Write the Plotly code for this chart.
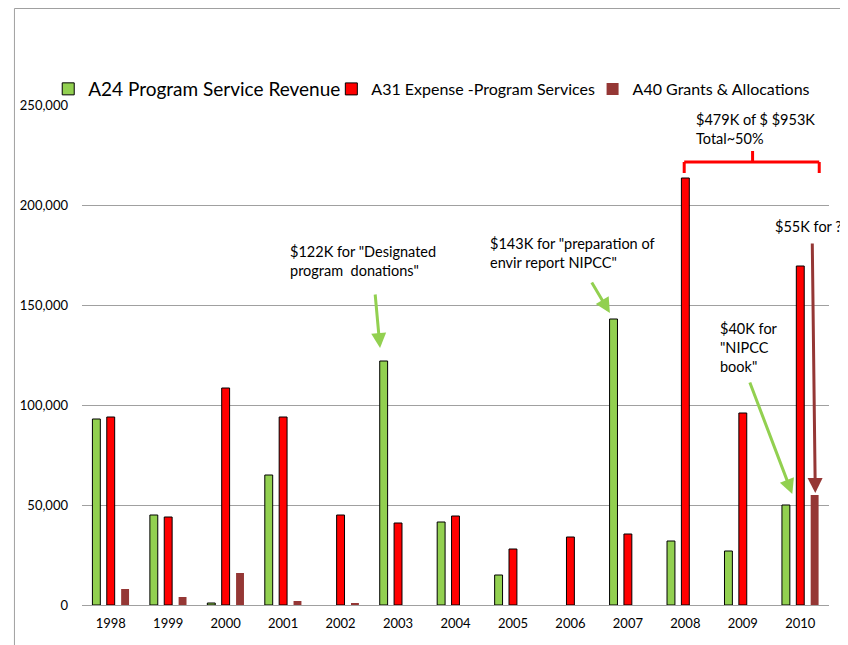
import plotly.graph_objects as go

years = [1998, 1999, 2000, 2001, 2002, 2003, 2004,
         2005, 2006, 2007, 2008, 2009, 2010]
# None = no revenue reported that year (no bar drawn)
revenue = [93000, 45000, 1000, 65000, None, 122000, 41500,
           15000, None, 143000, 32000, 27000, 50000]
expense = [94000, 44000, 108500, 94000, 45000, 41000, 44500,
           28000, 34000, 35500, 213500, 96000, 169500]
grants = [8000, 4000, 16000, 2000, 1000, 0, 0,
          0, 0, 0, 0, 0, 55000]

GREEN = "#92D050"
RED = "#FF0000"
BROWN = "#953735"
FONT = "Lato"

# page is drawn with an 8px body margin, so plot box lands at x 77..829, y 105..605
W, H = 848, 645
OFF = 8
PL, PR, PT, PB = 77, 829, 105, 605
ML, MR, MT, MB = PL - OFF, W + OFF - PR, PT - OFF, H + OFF - PB


def px_x(p):
    return (p - PL) / (PR - PL)


def px_y(p):
    return (PB - p) / (PB - PT)


fig = go.Figure()
fig.add_trace(go.Bar(x=years, y=revenue, name="A24 Program Service Revenue",
                     marker=dict(color=GREEN, line=dict(color="black", width=1)),
                     legend="legend"))
fig.add_trace(go.Bar(x=years, y=expense, name="A31 Expense -Program Services",
                     marker=dict(color=RED, line=dict(color="black", width=1)),
                     legend="legend2"))
fig.add_trace(go.Bar(x=years, y=grants, name="A40 Grants & Allocations",
                     marker=dict(color=BROWN, line=dict(width=0)),
                     legend="legend3"))

# text notes
notes = [
    (2003, 182000, -110, '$122K for "Designated<br>program  donations"'),
    (2007, 186000, -140, '$143K for "preparation of<br>envir report NIPCC"'),
    (2009, 248000, -49, "$479K of $ $953K<br>Total~50%"),
    (2010, 194500, -27, "$55K for ??"),
    (2010, 143500, -82, '$40K for<br>"NIPCC<br>book"'),
]
for x, y, xs, txt in notes:
    fig.add_annotation(x=x, y=y, xshift=xs, text=txt, showarrow=False,
                       xanchor="left", yanchor="top", align="left",
                       font=dict(family=FONT, size=14.5, color="black"))

# arrows (tip at bar top, tail offset in pixels)
arrows = [
    (2003, 128500, -18, -5, -55, GREEN),
    (2007, 146000, -18, -19, -32, GREEN),
    (2010, 55500, -8, -43, -113, GREEN),
    (2010, 56000, 15, -3, -251, BROWN),
]
for x, y, xs, ax, ay, col in arrows:
    fig.add_annotation(x=x, y=y, xshift=xs, ax=ax, ay=ay, text="",
                       showarrow=True, arrowhead=2, arrowsize=1,
                       arrowwidth=3, arrowcolor=col)

# bracket over 2008-2010
br = dict(color=RED, width=3)
bl, bc, brt = 2007.98, 2009.17, 2010.33
fig.add_shape(type="line", x0=bl, x1=brt, y0=221500, y1=221500, line=br)
fig.add_shape(type="line", x0=bl, x1=bl, y0=216000, y1=221500, line=br)
fig.add_shape(type="line", x0=brt, x1=brt, y0=216000, y1=221500, line=br)
fig.add_shape(type="line", x0=bc, x1=bc, y0=221500, y1=227000, line=br)

# outer frame
frame = dict(color="#A0A0A0", width=1)
fig.add_shape(type="line", xref="paper", yref="paper", x0=px_x(9), x1=px_x(W + 20),
              y0=px_y(8.5), y1=px_y(8.5), line=frame)
fig.add_shape(type="line", xref="paper", yref="paper", x0=px_x(9), x1=px_x(9),
              y0=px_y(8.5), y1=px_y(H + 20), line=frame)

leg = dict(orientation="h", y=px_y(89), yanchor="middle", xanchor="left",
           bgcolor="rgba(0,0,0,0)")
fig.update_layout(
    width=W, height=H,
    margin=dict(l=ML, r=MR, t=MT, b=MB),
    paper_bgcolor="white", plot_bgcolor="white",
    barmode="group", bargap=0.25, bargroupgap=0.45,
    font=dict(family=FONT, size=13, color="black"),
    legend=dict(leg, x=px_x(43), font=dict(family=FONT, size=19)),
    legend2=dict(leg, x=px_x(328), font=dict(family=FONT, size=16)),
    legend3=dict(leg, x=px_x(591), font=dict(family=FONT, size=16)),
    showlegend=True,
)
fig.update_xaxes(range=[1997.5, 2010.5], tickmode="array", tickvals=years,
                 ticktext=[str(y) for y in years],
                 showgrid=False, showline=True, linecolor="#A0A0A0",
                 ticks="", ticklabelstandoff=6, tickfont=dict(size=13))
fig.update_yaxes(range=[0, 250000], dtick=50000, tickformat=",", showgrid=True,
                 gridcolor="#A0A0A0", showline=False, zeroline=False,
                 tickfont=dict(size=13), ticks="", ticklabelstandoff=13)

fig.write_html("out.html")
